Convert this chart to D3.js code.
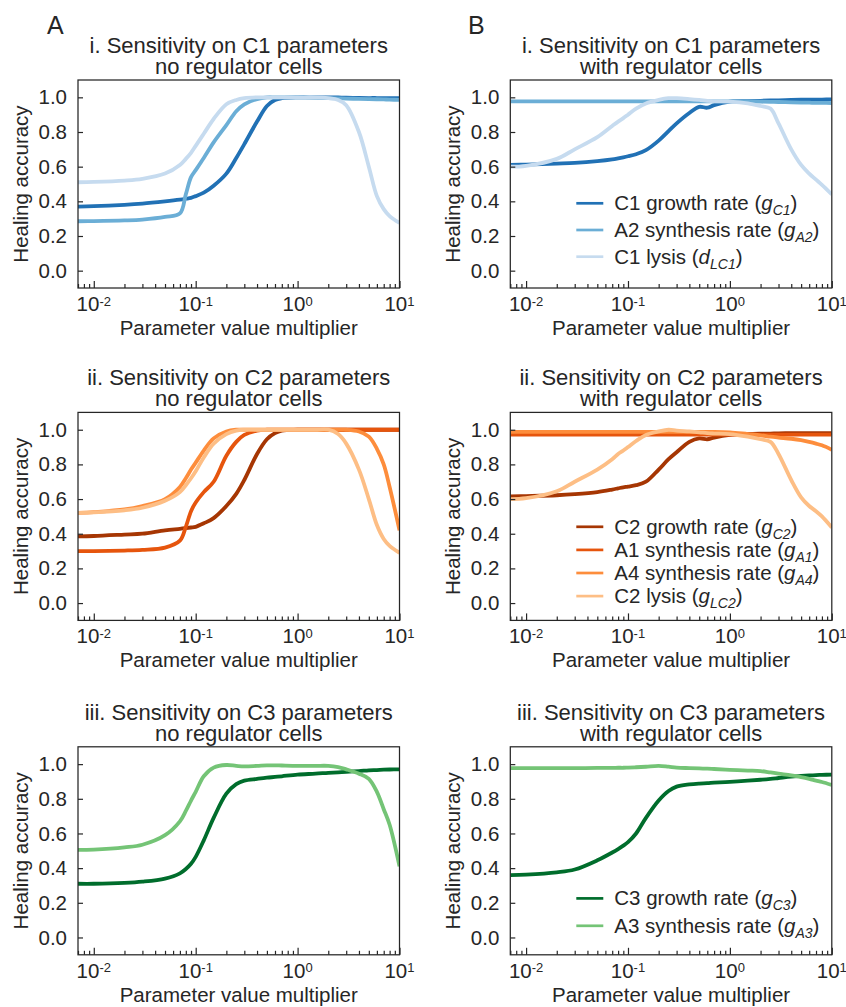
<!DOCTYPE html>
<html>
<head>
<meta charset="utf-8">
<script src="https://cdn.jsdelivr.net/npm/d3@7"></script>
<style>
  body { margin: 0; background: #fff; }
  text { font-family: "Liberation Sans", Arial, sans-serif; fill: #262626; }
</style>
</head>
<body>
<div id="chart"></div>
<script>
// Shared x grid (parameter value multiplier)
const xGrid = [0.007, 0.01, 0.02, 0.03, 0.05, 0.07, 0.08, 0.09, 0.1, 0.12, 0.15, 0.2, 0.25, 0.3, 0.4, 0.5, 0.6, 0.7, 1, 1.5, 2, 2.5, 3, 4, 5, 6, 7, 8, 10];

// A-i : C1 parameters, no regulator cells
const aiC1Growth = [.37, .372, .38, .387, .40, .41, .415, .42, .43, .45, .49, .56, .65, .73, .86, .95, .985, .995, 1.0, 1.0, 1.0, .999, .998, .997, .996, .996, .995, .995, .995];
const aiA2Synth  = [.285, .286, .29, .295, .31, .33, .44, .54, .58, .65, .74, .84, .92, .96, .99, 1.0, 1.0, 1.0, 1.0, .998, .996, .994, .993, .991, .99, .989, .988, .987, .985];
const aiC1Lysis  = [.51, .512, .52, .53, .56, .61, .645, .68, .72, .79, .875, .96, .985, .995, 1.0, 1.0, 1.0, 1.0, 1.0, 1.0, .995, .985, .955, .80, .60, .43, .355, .315, .275];

// B-i : C1 parameters, with regulator cells
const biC1Growth = [.61, .612, .618, .622, .632, .642, .648, .654, .66, .672, .695, .75, .805, .85, .91, .945, .94, .955, .975, .978, .98, .982, .983, .985, .986, .986, .987, .987, .988];
const biA2Synth  = [.977, .977, .977, .977, .977, .977, .977, .977, .977, .977, .977, .977, .977, .977, .977, .977, .977, .977, .977, .976, .975, .974, .973, .971, .97, .969, .968, .968, .967];
const biC1Lysis  = [.60, .605, .645, .70, .77, .835, .86, .88, .90, .935, .965, .985, .995, .995, .99, .985, .98, .977, .975, .965, .95, .935, .85, .70, .61, .56, .525, .495, .44];

// A-ii : C2 parameters, no regulator cells
const aiiC2Growth = [.385, .387, .395, .40, .42, .428, .432, .436, .44, .46, .49, .56, .63, .71, .86, .945, .98, .995, 1.0, 1.0, 1.0, 1.0, 1.0, 1.0, 1.0, 1.0, 1.0, 1.0, 1.0];
const aiiA1Synth  = [.30, .30, .303, .307, .32, .36, .44, .53, .58, .64, .70, .85, .93, .97, .995, 1.0, 1.0, 1.0, 1.0, 1.0, 1.0, 1.0, 1.0, 1.0, 1.0, 1.0, 1.0, 1.0, 1.0];
const aiiA4Synth  = [.52, .525, .54, .56, .60, .67, .72, .77, .81, .88, .95, .99, 1.0, 1.0, 1.0, 1.0, 1.0, 1.0, 1.0, 1.0, 1.0, 1.0, 1.0, .99, .96, .89, .80, .67, .42];
const aiiC2Lysis  = [.52, .523, .535, .55, .59, .64, .68, .72, .76, .84, .92, .975, .995, 1.0, 1.0, 1.0, 1.0, 1.0, 1.0, 1.0, 1.0, .975, .92, .77, .60, .45, .37, .33, .29];

// B-ii : C2 parameters, with regulator cells
const biiC2Growth = [.615, .617, .622, .628, .64, .655, .662, .668, .672, .68, .70, .77, .83, .87, .93, .95, .945, .955, .97, .975, .977, .978, .979, .98, .98, .98, .98, .98, .98];
const biiA1Synth  = [.972, .972, .972, .972, .972, .972, .972, .972, .972, .972, .972, .972, .972, .972, .972, .972, .972, .972, .972, .972, .972, .972, .972, .972, .972, .972, .972, .972, .972];
const biiA4Synth  = [.988, .988, .988, .988, .988, .988, .988, .988, .988, .988, .988, .988, .988, .988, .988, .988, .988, .988, .985, .975, .968, .96, .955, .948, .94, .93, .92, .91, .885];
const biiC2Lysis  = [.60, .605, .645, .70, .77, .83, .86, .88, .90, .935, .97, .99, 1.0, .995, .99, .985, .98, .978, .975, .96, .945, .93, .86, .71, .61, .56, .53, .50, .436];

// A-iii : C3 parameters, no regulator cells
const aiiiC3Growth = [.31, .31, .315, .322, .34, .37, .395, .425, .465, .56, .69, .83, .885, .905, .915, .922, .926, .93, .94, .945, .95, .953, .956, .96, .964, .966, .968, .969, .97];
const aiiiA3Synth  = [.505, .507, .52, .535, .59, .67, .73, .79, .84, .93, .98, .995, .99, .987, .99, .993, .993, .992, .99, .99, .99, .983, .97, .945, .915, .84, .74, .65, .41];

// B-iii : C3 parameters, with regulator cells
const biiiC3Growth = [.36, .363, .376, .392, .445, .49, .51, .53, .55, .60, .69, .79, .845, .87, .883, .888, .89, .893, .898, .905, .91, .915, .92, .928, .932, .935, .937, .938, .94];
const biiiA3Synth  = [.977, .977, .977, .977, .978, .978, .979, .979, .98, .982, .985, .99, .985, .98, .977, .975, .974, .972, .967, .963, .96, .952, .945, .935, .925, .915, .905, .897, .88];

// axis ticks
const yTicks = [0, 0.2, 0.4, 0.6, 0.8, 1.0];
const xMajor = [0.01, 0.1, 1, 10];
const xExp = ["-2", "-1", "0", "1"];
const xMinor = [0.007, 0.008, 0.009, 0.02, 0.03, 0.04, 0.05, 0.06, 0.07, 0.08, 0.09,
                0.2, 0.3, 0.4, 0.5, 0.6, 0.7, 0.8, 0.9, 2, 3, 4, 5, 6, 7, 8, 9];

const blues = ["#2171b5", "#6baed6", "#c6dbef"];
const oranges = ["#a63603", "#e6550d", "#fd8d3c", "#fdbe85"];
const greens = ["#006d2c", "#74c476"];

const panels = [
  { col: 0, row: 0, title: ["i. Sensitivity on C1 parameters", "no regulator cells"],
    series: [aiC1Growth, aiA2Synth, aiC1Lysis], colors: blues },
  { col: 1, row: 0, title: ["i. Sensitivity on C1 parameters", "with regulator cells"],
    series: [biC1Growth, biA2Synth, biC1Lysis], colors: blues,
    legend: { top: 123.3, step: 26.7, items: [
      ["C1 growth rate (", "g", "C1"], ["A2 synthesis rate (", "g", "A2"], ["C1 lysis (", "d", "LC1"]] } },
  { col: 0, row: 1, title: ["ii. Sensitivity on C2 parameters", "no regulator cells"],
    series: [aiiC2Growth, aiiA1Synth, aiiA4Synth, aiiC2Lysis], colors: oranges },
  { col: 1, row: 1, title: ["ii. Sensitivity on C2 parameters", "with regulator cells"],
    series: [biiC2Growth, biiA1Synth, biiA4Synth, biiC2Lysis], colors: oranges,
    legend: { top: 114.4, step: 23.1, items: [
      ["C2 growth rate (", "g", "C2"], ["A1 synthesis rate (", "g", "A1"],
      ["A4 synthesis rate (", "g", "A4"], ["C2 lysis (", "g", "LC2"]] } },
  { col: 0, row: 2, title: ["iii. Sensitivity on C3 parameters", "no regulator cells"],
    series: [aiiiC3Growth, aiiiA3Synth], colors: greens },
  { col: 1, row: 2, title: ["iii. Sensitivity on C3 parameters", "with regulator cells"],
    series: [biiiC3Growth, biiiA3Synth], colors: greens,
    legend: { top: 151.6, step: 27.4, items: [
      ["C3 growth rate (", "g", "C3"], ["A3 synthesis rate (", "g", "A3"]] } }
];

const width = 846, height = 1007;
const colLeft = [78, 510.3];
const rowTop = [80, 412.4, 746.8];
const plotW = 321.5, plotH = 208;
const ink = "#262626";

const svg = d3.select("#chart").append("svg")
  .attr("width", width).attr("height", height);

// panel letters
svg.append("text").attr("x", 47).attr("y", 34).attr("font-size", 25).text("A");
svg.append("text").attr("x", 468).attr("y", 34).attr("font-size", 25).text("B");

panels.forEach((p, i) => {
  const left = colLeft[p.col], top = rowTop[p.row];
  const g = svg.append("g").attr("transform", `translate(${left},${top})`);

  const x = d3.scaleLog().domain([0.007, 10]).range([0, plotW]);
  const y = d3.scaleLinear().domain([-0.1, 1.1]).range([plotH, 0]);

  // clip
  svg.append("clipPath").attr("id", "clip" + i)
    .append("rect").attr("width", plotW).attr("height", plotH);

  // lines
  const line = d3.line()
    .x((d, k) => x(xGrid[k]))
    .y(d => y(d))
    .curve(d3.curveCatmullRom.alpha(0.5));

  g.append("g").attr("clip-path", `url(#clip${i})`)
    .selectAll("path")
    .data(p.series)
    .join("path")
    .attr("d", line)
    .attr("fill", "none")
    .attr("stroke", (d, k) => p.colors[k])
    .attr("stroke-width", 3.8)
    .attr("stroke-linejoin", "round");

  // y axis
  const yAxis = g.append("g")
    .call(d3.axisLeft(y).tickValues(yTicks).tickSize(-5).tickPadding(11)
      .tickFormat(d3.format(".1f")));
  yAxis.select(".domain").remove();
  yAxis.selectAll("line").attr("stroke", ink).attr("stroke-width", 1.2);
  yAxis.selectAll("text").attr("font-size", 20.5).attr("font-family", null).attr("fill", ink);

  // x axis (major + minor)
  const xMaj = g.append("g").attr("transform", `translate(0,${plotH})`)
    .call(d3.axisBottom(x).tickValues(xMajor).tickSize(-7).tickFormat(""));
  const xMin = g.append("g").attr("transform", `translate(0,${plotH})`)
    .call(d3.axisBottom(x).tickValues(xMinor).tickSize(-4).tickFormat(""));
  [xMaj, xMin].forEach(a => {
    a.select(".domain").remove();
    a.selectAll("line").attr("stroke", ink).attr("stroke-width", 1.2);
  });

  const xl = g.selectAll(".xlab")
    .data(xMajor)
    .join("text")
    .attr("class", "xlab")
    .attr("x", d => x(d))
    .attr("y", plotH + 23)
    .attr("text-anchor", "middle")
    .attr("font-size", 20.5);
  xl.append("tspan").text("10");
  xl.append("tspan").attr("dy", -5.5).attr("font-size", 13).text((d, k) => xExp[k]);

  // frame
  g.append("rect").attr("width", plotW).attr("height", plotH)
    .attr("fill", "none").attr("stroke", ink).attr("stroke-width", 1.25);

  // titles
  g.append("text").attr("x", plotW / 2).attr("y", -27).attr("text-anchor", "middle")
    .attr("font-size", 22).text(p.title[0]);
  g.append("text").attr("x", plotW / 2).attr("y", -6).attr("text-anchor", "middle")
    .attr("font-size", 22).text(p.title[1]);

  // axis labels
  g.append("text").attr("transform", `translate(-50.5,${plotH / 2}) rotate(-90)`)
    .attr("text-anchor", "middle").attr("font-size", 20.5).text("Healing accuracy");
  g.append("text").attr("x", plotW / 2).attr("y", plotH + 47)
    .attr("text-anchor", "middle").attr("font-size", 20.5).text("Parameter value multiplier");

  // legend
  if (p.legend) {
    const lg = g.append("g");
    p.legend.items.forEach((it, k) => {
      const cy = p.legend.top + k * p.legend.step;
      lg.append("line").attr("x1", 66).attr("x2", 93).attr("y1", cy).attr("y2", cy)
        .attr("stroke", p.colors[k]).attr("stroke-width", 2.7);
      const t = lg.append("text").attr("x", 104).attr("y", cy + 7).attr("font-size", 20.5);
      t.append("tspan").text(it[0]);
      t.append("tspan").attr("font-style", "italic").text(it[1]);
      t.append("tspan").attr("font-style", "italic").attr("font-size", 14).attr("dy", 5).text(it[2]);
      t.append("tspan").attr("dy", -5).text(")");
    });
  }
});
</script>
</body>
</html>
